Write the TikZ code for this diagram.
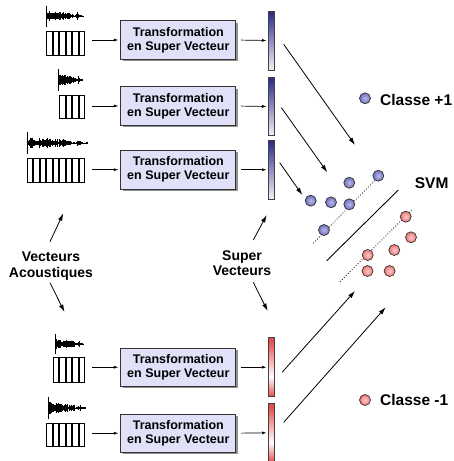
\documentclass[tikz,border=0pt]{standalone}
\usepackage{fontspec}
\setmainfont{Liberation Sans}
\usetikzlibrary{arrows.meta,shadows,calc}
\definecolor{boxfill}{RGB}{224,224,248}
\definecolor{bluetop}{RGB}{40,40,135}
\definecolor{bluebot}{RGB}{242,242,250}
\definecolor{barred}{RGB}{232,75,75}
\definecolor{bluein}{RGB}{185,185,232}
\definecolor{blueout}{RGB}{110,110,190}
\definecolor{redin}{RGB}{255,205,205}
\definecolor{redout}{RGB}{238,115,115}
\pgfdeclareverticalshading{redbarshade}{100bp}{color(0bp)=(barred); color(25bp)=(barred); color(42bp)=(white); color(72bp)=(barred); color(100bp)=(barred)}
\newcommand\wavef[4]{%
  \draw[line width=1pt] (#1,#3-#4) -- (#1,#3+#4);
  \draw[line width=0.6pt] (#1,#3) -- (#2,#3);
  \foreach \i in {0,...,60}{%
    \pgfmathsetmacro\t{\i/60}%
    \pgfmathsetmacro\env{(\t<0.72)*(0.55-0.35*\t)+(\t>=0.72)*(0.07+0.33*max(0,1-abs(\t-0.86)/0.06))}%
    \pgfmathsetmacro\aa{#4*\env*(0.35+0.65*rnd)}%
    \pgfmathsetmacro\xx{#1+\t*(#2-#1)}%
    \draw[line width=0.8pt] (\xx,#3-\aa) -- (\xx,#3+\aa);
  }%
}
\newcommand\acvec[4]{% right x, top y, bottom y, n
  \foreach \i in {1,...,#4}{%
    \draw[line width=0.7pt, fill=white] ({#1-\i*6.55+0.5},#2) rectangle ({#1-(\i-1)*6.55-0.5},#3);
  }%
}
\begin{document}
\begin{tikzpicture}[x=1pt,y=-1pt,
  tbox/.style={draw=black!80, fill=boxfill, minimum width=115pt, minimum height=38.5pt, inner sep=0pt, align=center, font=\fontsize{12.5}{14}\selectfont\bfseries, drop shadow={shadow xshift=2pt, shadow yshift=-2pt, fill=black!55, opacity=0.8}, line width=0.8pt},
  bbar/.style={draw=black!75, line width=0.7pt, minimum width=5.7pt, minimum height=59pt, inner sep=0pt, top color=bluetop, bottom color=bluebot},
  rbar/.style={draw=black!75, line width=0.7pt, minimum width=5.7pt, minimum height=59pt, inner sep=0pt, shading=redbarshade},
  bpt/.style={circle, draw=black!80, line width=0.7pt, minimum size=11pt, inner sep=0pt, inner color=bluein, outer color=blueout},
  rpt/.style={circle, draw=black!80, line width=0.7pt, minimum size=11pt, inner sep=0pt, inner color=redin, outer color=redout},
  arr/.style={-{Latex[length=7.5pt,width=4.5pt]}, line width=0.8pt},
  sarr/.style={-{Latex[length=4.5pt,width=3pt]}, line width=0.7pt},
  lbl/.style={font=\fontsize{14}{15.5}\selectfont\bfseries, align=center, inner sep=0pt},
  leg/.style={font=\fontsize{15.5}{18}\selectfont\bfseries, anchor=west, inner sep=0pt}
]
\useasboundingbox (0,0) rectangle (454,461);
\pgfmathsetseed{4242}

% waveforms
\wavef{46}{83}{16}{10.5}
\wavef{58}{82}{80}{11}
\wavef{27}{87}{143}{11}
\wavef{55}{83}{344}{10}
\wavef{48}{85}{408}{11}

% acoustic vectors
\acvec{85.3}{31.7}{55}{6}
\acvec{85.3}{95}{118.3}{4}
\acvec{85.3}{158.3}{182.7}{9}
\acvec{85.3}{357.7}{382.3}{5}
\acvec{85.3}{423.3}{446}{6}

\coordinate (a1) at (92,40);
\coordinate (a2) at (92,106);
\coordinate (a3) at (92,169.7);
\coordinate (a4) at (92,367.2);
\coordinate (a5) at (92,433.2);

% boxes
\node[tbox] (b1) at (178.3,40) {Transformation\\en Super Vecteur};
\node[tbox] (b2) at (178.3,106) {Transformation\\en Super Vecteur};
\node[tbox] (b3) at (178.3,169.7) {Transformation\\en Super Vecteur};
\node[tbox] (b4) at (178.3,367.2) {Transformation\\en Super Vecteur};
\node[tbox] (b5) at (178.3,433.2) {Transformation\\en Super Vecteur};

% bars
\node[bbar] (v1) at (271.2,40.5) {};
\node[bbar, minimum height=58.4pt] (v2) at (271.2,106.5) {};
\node[bbar, minimum height=59.3pt] (v3) at (271.2,169.7) {};
\node[rbar] (v4) at (271.2,367.2) {};
\node[rbar] (v5) at (271.2,432.8) {};

\foreach \k in {1,...,5}{
  \draw[sarr, shorten >=2pt] (a\k) -- (b\k.west);
  \draw[sarr, shorten <=5pt, shorten >=1.5pt] (b\k.east) -- (v\k.west);
}

% labels
\node[lbl] (va) at (51,266) {Vecteurs\\Acoustiques};
\node[lbl] (sv) at (242,263.3) {Super\\Vecteurs};
\coordinate (vau0) at (50,241.7);  \coordinate (vau1) at (63.3,213.3);
\coordinate (vad0) at (50,282.7);  \coordinate (vad1) at (64.5,312);
\coordinate (svu0) at (253.3,240); \coordinate (svu1) at (266.7,215);
\coordinate (svd0) at (253.3,282.3); \coordinate (svd1) at (267.7,311);
\draw[arr] (vau0) -- (vau1);
\draw[arr] (vad0) -- (vad1);
\draw[arr] (svu0) -- (svu1);
\draw[arr] (svd0) -- (svd1);

% SVM separation lines
\coordinate (bl0) at (313.3,243.3); \coordinate (bl1) at (383.3,171.7);
\coordinate (rl0) at (340,281.7);   \coordinate (rl1) at (411.7,210);
\coordinate (sl0) at (326.7,260.7); \coordinate (sl1) at (398.3,190);
\draw[dotted, line width=0.8pt] (bl0) -- (bl1);
\draw[dotted, line width=0.8pt] (rl0) -- (rl1);
\draw[line width=0.9pt] (sl0) -- (sl1);

% points
\node[bpt] (p1) at (310.7,200.7) {};
\node[bpt] (p2) at (331,202.3) {};
\node[bpt] (p3) at (349.3,182.7) {};
\node[bpt] (p4) at (349.3,204.3) {};
\node[bpt] (p5) at (378.3,175.7) {};
\node[bpt] (p6) at (324,230) {};
\node[rpt] (q1) at (405.7,216.7) {};
\node[rpt] (q2) at (411,237.3) {};
\node[rpt] (q3) at (394.3,250) {};
\node[rpt] (q4) at (367.7,255) {};
\node[rpt] (q5) at (367.5,271) {};
\node[rpt] (q6) at (389.6,271) {};

% diagonal arrows
\coordinate (e1) at (355,145);
\coordinate (e2) at (327.3,172.3);
\coordinate (e3) at (302.3,195);
\coordinate (e4) at (355,291);
\coordinate (e5) at (385.7,307.3);
\draw[arr] ($(v1.east)+(9.3,3.8)$) -- (e1);
\draw[arr] ($(v2.east)+(7,1.2)$) -- (e2);
\draw[arr] ($(v3.east)+(5.3,-7)$) -- (e3);
\draw[arr] ($(v4.east)+(7.7,5.1)$) -- (e4);
\draw[arr] ($(v5.east)+(9.3,-10.5)$) -- (e5);

% legend
\node[bpt] (lb) at (365,98.3) {};
\node[leg] (lbt) at (380,100) {Classe +1};
\node[rpt] (lr) at (365,400) {};
\node[leg] (lrt) at (380,400) {Classe -1};
\node[font=\fontsize{15.5}{18}\selectfont\bfseries, inner sep=0pt] (svm) at (431.7,183.5) {SVM};
\end{tikzpicture}
\end{document}
